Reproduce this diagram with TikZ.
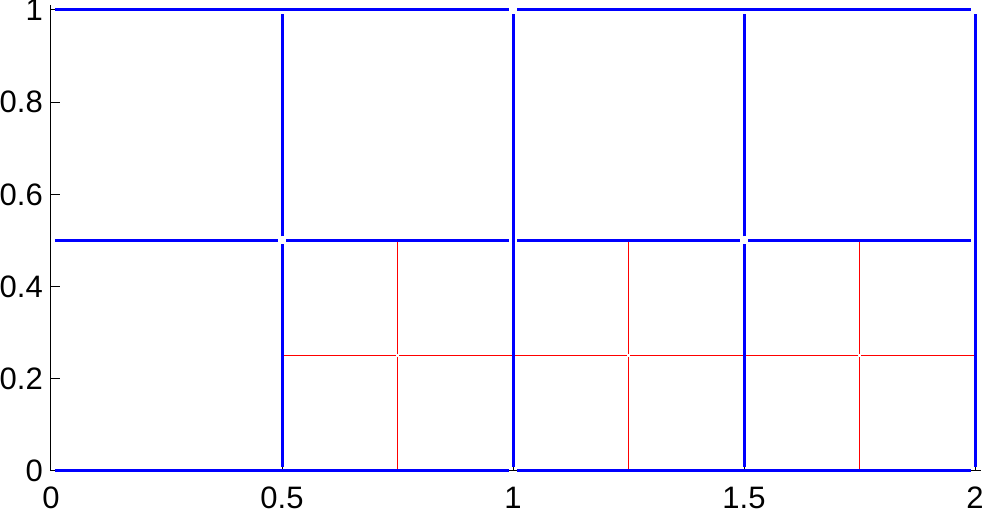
\documentclass[tikz,border=0pt]{standalone}
\usepackage{fontspec}
\setmainfont{Liberation Sans}
\begin{document}
\begin{tikzpicture}[x=462pt,y=461pt,every node/.style={font=\fontsize{31}{34}\selectfont,inner sep=0pt},
  edge/.style={blue,line width=3pt,shorten <=4pt,shorten >=4pt},
  subedge/.style={red,line width=1pt,shorten <=1.5pt,shorten >=1.5pt},
  axisline/.style={black,line width=1pt}]
\useasboundingbox (-51pt,-45pt) rectangle (931pt,471pt);
% axes and ticks
\draw[axisline] (0,1.011) -- (0,0) -- (2.013,0);
\foreach \y/\t [count=\i] in {0/0,0.2/0.2,0.4/0.4,0.6/0.6,0.8/0.8,1/1}{
  \draw[axisline] (0,\y) -- ++(9pt,0);
  \node[anchor=east] (ylab\i) at ([xshift=-8pt]0,\y) {\t};
}
\foreach \x/\t [count=\i] in {0/0,0.5/0.5,1/1,1.5/1.5,2/2}{
  \draw[axisline] (\x,0) -- ++(0,9pt);
  \node[anchor=north] (xlab\i) at ([yshift=-16pt]\x,0) {\t};
}
% refined cells
\foreach \x in {0.75,1.25,1.75}{
  \draw[subedge] (\x,0) -- (\x,0.25);
  \draw[subedge] (\x,0.25) -- (\x,0.5);
}
\foreach \a/\b in {0.5/0.75,0.75/1,1/1.25,1.25/1.5,1.5/1.75,1.75/2}
  \draw[subedge] (\a,0.25) -- (\b,0.25);
% coarse cells
\foreach \a/\b in {0/1,1/2}{
  \draw[edge] (\a,0) -- (\b,0);
  \draw[edge] (\a,1) -- (\b,1);
}
\foreach \a/\b in {0/0.5,0.5/1,1/1.5,1.5/2}
  \draw[edge] (\a,0.5) -- (\b,0.5);
\foreach \x in {0.5,1.5}{
  \draw[edge] (\x,0) -- (\x,0.5);
  \draw[edge] (\x,0.5) -- (\x,1);
}
\draw[edge] (1,0) -- (1,1);
\draw[edge] (2,0) -- (2,1);
\end{tikzpicture}
\end{document}
